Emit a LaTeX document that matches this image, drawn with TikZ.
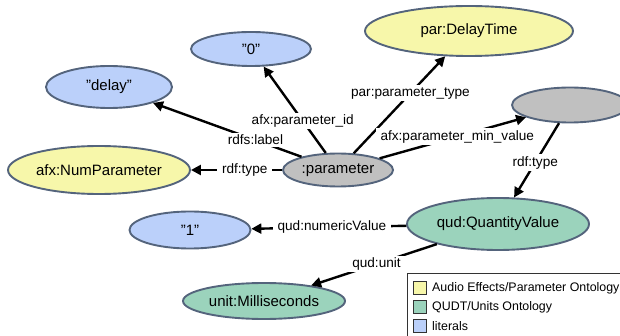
\documentclass[tikz,border=0pt]{standalone}
\usepackage{fontspec}
\setmainfont{Liberation Sans}
\usetikzlibrary{shapes.geometric,arrows.meta}

\definecolor{ontoyellow}{RGB}{247,247,170}
\definecolor{qudtgreen}{RGB}{155,211,188}
\definecolor{litblue}{RGB}{187,208,250}
\definecolor{resgray}{RGB}{192,192,192}
\definecolor{rim}{RGB}{84,100,124}

\begin{document}
\begin{tikzpicture}[x=1pt,y=-1pt,
  res/.style={ellipse, draw=rim, line width=1.9pt, inner sep=0pt,
    font=\fontsize{15}{18}\selectfont},
  afx/.style={res, fill=ontoyellow},
  qudt/.style={res, fill=qudtgreen},
  lit/.style={res, fill=litblue},
  blank/.style={res, fill=resgray},
  link/.style={draw=black, line width=2.4pt,
    -{Triangle[length=10pt,width=10pt]}},
  lbl/.style={fill=white, inner xsep=5pt, inner ysep=2pt,
    font=\fontsize{13.6}{16}\selectfont},
  swatch/.style={draw=black!80, line width=1pt, minimum width=13pt,
    minimum height=13pt, inner sep=0pt},
  keytext/.style={anchor=west, inner sep=0pt, font=\fontsize{12.4}{15}\selectfont},
]
\useasboundingbox (0,0) rectangle (620,336);
\clip (0,0) rectangle (620,336);

% resources and literals
\node[blank, minimum width=110pt, minimum height=33pt] (param) at (338,170) {:parameter};
\node[lit, minimum width=120pt, minimum height=34pt] (zero) at (251,49) {"0"};
\node[lit, minimum width=126pt, minimum height=42pt] (delay) at (109,87) {"delay"};
\node[afx, minimum width=182pt, minimum height=48pt] (numpar) at (99,170) {afx:NumParameter};
\node[afx, minimum width=208pt, minimum height=50pt] (dtime) at (469,31) {par:DelayTime};
\node[blank, minimum width=116pt, minimum height=35pt] (minval) at (570,105) {};
\node[qudt, minimum width=182pt, minimum height=52pt] (qval) at (498,224) {qud:QuantityValue};
\node[lit, minimum width=121pt, minimum height=37pt] (one) at (190,230) {"1"};
\node[qudt, minimum width=162pt, minimum height=36pt] (msec) at (264,301) {unit:Milliseconds};

% properties
\draw[link] (param) -- node[lbl, pos=0.31] {rdfs:label} (delay);
\draw[link] (param) -- node[lbl, pos=0.37] {afx:parameter\_id} (zero);
\draw[link] (param) -- node[lbl, pos=0.62] {par:parameter\_type} (dtime);
\draw[link] (param) -- node[lbl, pos=0.53] {afx:parameter\_min\_value} (minval);
\draw[link] (param) -- node[lbl, pos=0.41] {rdf:type} (numpar);
\draw[link] (minval) -- node[lbl, pos=0.53] {rdf:type} (qval);
\draw[link] (qval) -- node[lbl, pos=0.48] {qud:numericValue} (one);
\draw[link] (qval) -- node[lbl, pos=0.48] {qud:unit} (msec);

% key
\draw[black!80, line width=1pt, fill=white] (407,273) rectangle (640,350);
\node[swatch, fill=ontoyellow] (k1) at (419.5,288) {};
\node[swatch, fill=qudtgreen] (k2) at (419.5,307) {};
\node[swatch, fill=litblue] (k3) at (419.5,326) {};
\node[keytext] (t1) at (432,288) {Audio Effects/Parameter Ontology};
\node[keytext] (t2) at (432,307) {QUDT/Units Ontology};
\node[keytext] (t3) at (432,326) {literals};
\end{tikzpicture}
\end{document}
